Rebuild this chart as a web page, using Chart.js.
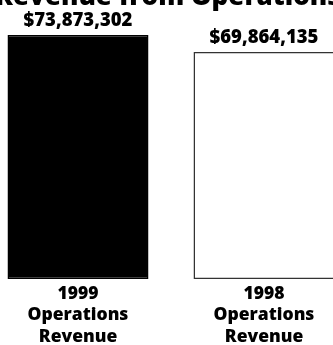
<!DOCTYPE html>
<html>
<head>
<meta charset="utf-8">
<script src="https://cdn.jsdelivr.net/npm/chart.js@4"></script>
<style>
  html, body { margin: 0; padding: 0; background: #fff; overflow: hidden; }
  body { width: 333px; height: 345px; position: relative; }
  #wrap { position: absolute; left: -15px; top: 0; width: 372px; height: 345px; }
</style>
</head>
<body>
<div id="wrap"><canvas id="revenueChart"></canvas></div>
<script>
// données du graphique
var years = ["1999", "1998"];
var revenue = [73873302, 69864135];
var valueLabels = ["$73,873,302", "$69,864,135"];
var chartTitle = "Revenue from Operations";
var axisMin = 16500000;

var fontFamily = "'Open Sans', Lato, sans-serif";

// étiquettes des valeurs au-dessus des barres + titre coupé en haut
var labelsPlugin = {
  id: "valueLabels",
  afterDatasetsDraw: function(chart) {
    var ctx = chart.ctx;
    var meta = chart.getDatasetMeta(0);
    ctx.save();
    ctx.fillStyle = "#000";
    ctx.font = "800 18.5px " + fontFamily;
    ctx.textAlign = "center";
    ctx.textBaseline = "alphabetic";
    meta.data.forEach(function(bar, i) {
      ctx.fillText(valueLabels[i], bar.x, bar.y - 9);
    });
    ctx.font = "800 26px " + fontFamily;
    ctx.fillText(chartTitle, 183, 5);
    ctx.restore();
  }
};

var ctx = document.getElementById("revenueChart").getContext("2d");
var chart = new Chart(ctx, {
  type: "bar",
  data: {
    labels: years.map(function(y) { return [y, "Operations", "Revenue"]; }),
    datasets: [{
      data: revenue,
      base: axisMin,
      backgroundColor: ["#000000", "#ffffff"],
      borderColor: ["#000000", "#333333"],
      borderWidth: 1.5,
      borderSkipped: false,
      clip: { left: false, right: false, top: false, bottom: 2 },
      categoryPercentage: 1,
      barPercentage: 0.758
    }]
  },
  options: {
    responsive: true,
    maintainAspectRatio: false,
    animation: false,
    layout: { padding: { top: 35, left: 0, right: 0, bottom: 0 } },
    plugins: {
      legend: { display: false },
      tooltip: { enabled: false }
    },
    scales: {
      x: {
        grid: { display: false },
        border: { display: false },
        ticks: {
          color: "#000",
          padding: -4,
          font: { family: fontFamily, size: 17.5, weight: "800", lineHeight: 1.23 }
        },
        afterFit: function(scale) { scale.height = 66; }
      },
      y: {
        display: false,
        min: axisMin,
        max: 73873302
      }
    }
  },
  plugins: [labelsPlugin]
});
</script>
</body>
</html>
